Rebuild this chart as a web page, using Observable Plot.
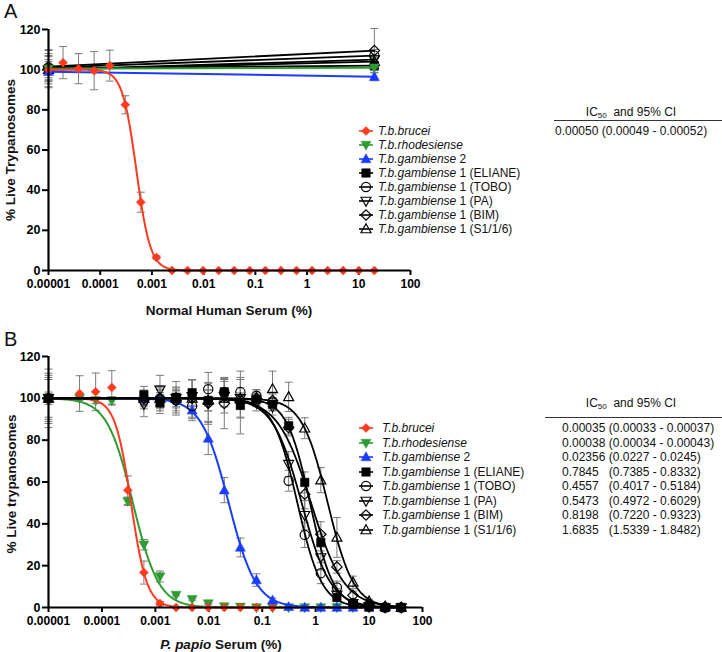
<!DOCTYPE html>
<html><head><meta charset="utf-8">
<script src="https://cdn.jsdelivr.net/npm/d3@7"></script>
<script src="https://cdn.jsdelivr.net/npm/@observablehq/plot@0.6"></script>
<style>
body{margin:0;background:#fff;font-family:"Liberation Sans",Arial,sans-serif;color:#111;}
#root{position:relative;width:722px;height:652px;overflow:hidden;background:#fff;}
.abs{position:absolute;white-space:pre;line-height:14px;font-size:12px;}
.ttl{position:absolute;white-space:pre;font-weight:bold;font-size:13.5px;line-height:1;transform:translate(-50%,-50%);}
.rot{transform:translate(-50%,-50%) rotate(-90deg);}
.letter{position:absolute;font-size:20px;line-height:1;}
svg.plot{position:absolute;left:0;}
</style></head><body><div id="root"></div>
<script>
// ---------------- tick labels ----------------
const xTicks = [0.00001, 0.0001, 0.001, 0.01, 0.1, 1, 10, 100];
const xTickLabels = ["0.00001", "0.0001", "0.001", "0.01", "0.1", "1", "10", "100"];
const yTicks = [0, 20, 40, 60, 80, 100, 120];

// ---------------- series names ----------------
const speciesNames = ["T.b.brucei", "T.b.rhodesiense", "T.b.gambiense", "T.b.gambiense", "T.b.gambiense", "T.b.gambiense", "T.b.gambiense", "T.b.gambiense"];
const speciesSuffix = ["", "", " 2", " 1 (ELIANE)", " 1 (TOBO)", " 1 (PA)", " 1 (BIM)", " 1 (S1/1/6)"];

// ---------------- Panel A: Normal Human Serum ----------------
const concA = [0.00001, 0.0000191, 0.0000381, 0.0000763, 0.000153, 0.000305, 0.00061, 0.00122, 0.00244, 0.00488, 0.00977, 0.0195, 0.039, 0.078, 0.156, 0.3125, 0.625, 1.25, 2.5, 5, 10, 20];
const bruceiA    = [100, 103.5, 100.5, 99.5, 102, 82.5, 34, 6.5, 0, 0, 0, 0, 0, 0, 0, 0, 0, 0, 0, 0, 0, 0];
const bruceiA_sd = [1.5, 8, 7.5, 9.5, 7.7, 4.5, 5, 0.8, 0, 0, 0, 0, 0, 0, 0, 0, 0, 0, 0, 0, 0, 0];
const concEndsA = [0.00001, 20];
const rhodA   = [100.5, 101];   const rhodA_sd   = [6, 1.5];
const gamb2A  = [99, 96.5];     const gamb2A_sd  = [8, 2];
const elianeA = [100.5, 102];   const elianeA_sd = [9, 2];
const toboA   = [101, 107];     const toboA_sd   = [7, 3];
const paA     = [100, 105];     const paA_sd     = [5, 2];
const bimA    = [101.5, 109.5]; const bimA_sd    = [8.5, 11];
const s116A   = [100, 104];     const s116A_sd   = [4, 2];
const ic50A = [0.00050];
const hillA = [3.2];
const ic50TextA = ["0.00050 (0.00049 - 0.00052)"];

// ---------------- Panel B: P. papio Serum ----------------
const concB = [0.00001, 0.0000381, 0.0000763, 0.000153, 0.000305, 0.00061, 0.00122, 0.00244, 0.00488, 0.00977, 0.0195, 0.039, 0.078, 0.156, 0.3125, 0.625, 1.25, 2.5, 5, 10, 20, 40];
const bruceiB    = [100, 102.3, 103.1, 105.2, 56.1, 16.7, 1.9, 0, 0, 0, 0, 0, 0, 0, null, null, null, null, null, null, null, null];
const bruceiB_sd = [2, 8.5, 9, 8, 6.8, 5.5, 1, 0, 0, 0, 0, 0, 0, 0, 0, 0, 0, 0, 0, 0, 0, 0];
const rhodB      = [100, 100, 99, 98.8, 50.8, 30, 14.8, 6, 4, 1.9, 0.5, 0.3, 0, 0, 0, 0, 0, 0, 0, 0, 0, 0];
const rhodB_sd   = [3, 1, 1.5, 2, 2, 2.5, 2.6, 0.5, 0.5, 0.3, 0, 0, 0, 0, 0, 0, 0, 0, 0, 0, 0, 0];
const gamb2B     = [100, null, null, null, null, 99.9, 100.2, 100.4, 94.3, 80.8, 56.1, 28.7, 13.1, 3.5, 0.3, 0, 0, 0, 0, 0, 0, 0];
const gamb2B_sd  = [2, 0, 0, 0, 0, 3, 4, 5, 5, 7.7, 6, 4.5, 3, 1, 0, 0, 0, 0, 0, 0, 0, 0];
const elianeB    = [100, null, null, null, null, 101.7, 97.7, 100.5, 102.7, 99, 103.1, 96.6, 99.5, 97.2, 86.9, 59.8, 31.1, 4.8, 1.5, 0.3, 0, 0];
const elianeB_sd = [12, 0, 0, 0, 0, 4, 5, 3, 6, 5, 5, 6, 3, 3, 4, 5, 4, 3, 1, 0.5, 0, 0];
const toboB      = [100, null, null, null, null, 99, 100, 99, 96.3, 104.4, 103, 103, 101.2, 98, 60.6, 34.7, 16.4, 9.6, 2.2, 0.5, 0, 0];
const toboB_sd   = [14, 0, 0, 0, 0, 4, 6, 5, 6, 8, 7, 7, 3, 4, 5, 6, 5, 3, 1, 0.5, 0, 0];
const paB        = [100, null, null, null, null, 97.2, 104, 100, 101, 98, 101, 100, 98, 96, 68.5, 44.1, 23.9, 6, 2, 0.5, 0, 0];
const paB_sd     = [10, 0, 0, 0, 0, 6, 7, 8, 8, 9, 8, 9, 4, 4, 6, 7, 6, 3, 1, 0.5, 0, 0];
const bimB       = [100, null, null, null, null, 100, 100, 99, 100, 97.6, 97.5, 98, 100, 99, 86, 54.2, 35, 19.4, 5.8, 1.5, 0.3, 0];
const bimB_sd    = [9, 0, 0, 0, 0, 4, 5, 6, 9, 10, 12, 15, 3, 4, 4, 7, 6, 3, 2, 1, 0.5, 0];
const s116B      = [100, null, null, null, null, 100, 100, 100, 100, 99, 100, 100, 100, 104.5, 100.7, 85.7, 60.9, 33.5, 12, 3, 0.5, 0];
const s116B_sd   = [11, 0, 0, 0, 0, 3, 4, 4, 4, 5, 4, 5, 4, 8.5, 7, 5, 6, 9.5, 3, 1, 0.5, 0];
const ic50B = [0.00035, 0.00038, 0.02356, 0.7845, 0.4557, 0.5473, 0.8198, 1.6835];
const hillB = [2.9, 1.8, 1.7, 2.0, 1.9, 1.6, 1.4, 1.8];
const ic50TextB = [
  "0.00035 (0.00033 - 0.00037)",
  "0.00038 (0.00034 - 0.00043)",
  "0.02356 (0.0227 - 0.0245)",
  "0.7845   (0.7385 - 0.8332)",
  "0.4557   (0.4017 - 0.5184)",
  "0.5473   (0.4972 - 0.6029)",
  "0.8198   (0.7220 - 0.9323)",
  "1.6835   (1.5339 - 1.8482)"
];

// ---------------- styles ----------------
const seriesColor = ["#ff3b1f", "#2e9b33", "#1a3cff", "#000", "#000", "#000", "#000", "#000"];
const errColor = "#7b7b7b";
const rad = s => Math.sqrt(s / Math.PI);
const symDiamond = {draw(c, s){const r = rad(s); c.moveTo(0, -r); c.lineTo(r, 0); c.lineTo(0, r); c.lineTo(-r, 0); c.closePath();}};
const symSquare = {draw(c, s){const r = rad(s) * 0.85; c.rect(-r, -r, 2 * r, 2 * r);}};
const symCircle = {draw(c, s){const r = rad(s); c.moveTo(r, 0); c.arc(0, 0, r, 0, 2 * Math.PI);}};
const symUp = {draw(c, s){const r = rad(s); c.moveTo(0, -r * 1.05); c.lineTo(r, r * 0.75); c.lineTo(-r, r * 0.75); c.closePath();}};
const symDown = {draw(c, s){const r = rad(s); c.moveTo(0, r * 1.05); c.lineTo(r, -r * 0.75); c.lineTo(-r, -r * 0.75); c.closePath();}};
const symCap = {draw(c, s){const r = rad(s); c.moveTo(-r, 0); c.lineTo(r, 0);}};
const seriesSym = [symDiamond, symDown, symUp, symSquare, symCircle, symDown, symDiamond, symUp];
const seriesFill = ["#ff3b1f", "#2e9b33", "#1a3cff", "#000", "none", "none", "none", "none"];
const seriesR = [4.5, 5, 5, 5, 4.6, 5, 5.2, 5];

function rowsOf(conc, vals, sds){
  const out = [];
  conc.forEach((x, i) => { if (vals[i] != null) out.push({x, y: vals[i], sd: sds[i] || 0}); });
  return out;
}
function fitCurve(ic50, hill, xmin, xmax){
  const n = 300, out = [];
  const a = Math.log10(xmin), b = Math.log10(xmax);
  for (let i = 0; i <= n; i++){ const x = 10 ** (a + (b - a) * i / n); out.push({x, y: 100 / (1 + Math.pow(x / ic50, hill))}); }
  return out;
}

function buildPlot({series, order, height, marginRight, marginTop, marginBottom}){
  const marks = [];
  const all = series.flatMap(s => s.rows.filter(d => d.sd > 0));
  marks.push(Plot.ruleX(all, {x: "x", y1: d => Math.max(0, d.y - d.sd), y2: d => d.y + d.sd, stroke: errColor, strokeWidth: 1}));
  const caps = all.flatMap(d => [{x: d.x, y: d.y + d.sd}, ...(d.y - d.sd > 0 ? [{x: d.x, y: d.y - d.sd}] : [])]);
  marks.push(Plot.dot(caps, {x: "x", y: "y", symbol: symCap, r: 4, stroke: errColor, strokeWidth: 1, fill: "none"}));
  marks.push(Plot.axisX({ticks: xTicks, tickFormat: d => xTickLabels[xTicks.indexOf(d)], tickSize: 5, tickPadding: 4, strokeWidth: 2, fontSize: 12, fontWeight: "bold", label: null}));
  marks.push(Plot.axisY({ticks: yTicks, tickSize: 6, tickPadding: 2, strokeWidth: 2, fontSize: 12.5, fontWeight: "bold", label: null}));
  for (const i of order){
    const s = series[i];
    marks.push(Plot.line(s.curve, {x: "x", y: "y", stroke: seriesColor[i], strokeWidth: i < 3 ? 2 : 1.8}));
    marks.push(Plot.dot(s.rows, {x: "x", y: "y", symbol: seriesSym[i], r: seriesR[i], fill: seriesFill[i], stroke: seriesColor[i], strokeWidth: seriesFill[i] === "none" ? 1.2 : 0.5}));
  }
  marks.push(Plot.ruleY([0], {x1: 0.00001, x2: 100, strokeWidth: 2.2}));
  marks.push(Plot.ruleX([0.00001], {y1: 0, y2: 120, strokeWidth: 2.2}));
  return Plot.plot({
    width: 722, height, marginLeft: 48, marginRight, marginTop, marginBottom,
    x: {type: "log", domain: [0.00001, 100]},
    y: {domain: [0, 120]},
    style: {fontFamily: "'Liberation Sans', Arial, sans-serif", fontWeight: "bold", color: "#000", background: "transparent"},
    marks
  });
}

const root = document.getElementById("root");

// ---- Panel A ----
const valsA = [bruceiA, rhodA, gamb2A, elianeA, toboA, paA, bimA, s116A];
const sdsA = [bruceiA_sd, rhodA_sd, gamb2A_sd, elianeA_sd, toboA_sd, paA_sd, bimA_sd, s116A_sd];
const seriesA = valsA.map((v, i) => {
  const conc = i === 0 ? concA : concEndsA;
  const rows = rowsOf(conc, v, sdsA[i]);
  return {rows, curve: i === 0 ? fitCurve(ic50A[0], hillA[0], 0.00001, 20) : rows};
});
const svgA = buildPlot({series: seriesA, order: [3, 4, 5, 6, 7, 2, 1, 0], height: 326, marginRight: 312, marginTop: 29, marginBottom: 56});
svgA.classList.add("plot"); svgA.style.top = "0px";
root.appendChild(svgA);

// ---- Panel B ----
const valsB = [bruceiB, rhodB, gamb2B, elianeB, toboB, paB, bimB, s116B];
const sdsB = [bruceiB_sd, rhodB_sd, gamb2B_sd, elianeB_sd, toboB_sd, paB_sd, bimB_sd, s116B_sd];
const seriesB = valsB.map((v, i) => ({rows: rowsOf(concB, v, sdsB[i]), curve: fitCurve(ic50B[i], hillB[i], 0.00001, 40)}));
const svgB = buildPlot({series: seriesB, order: [1, 0, 2, 3, 4, 5, 6, 7], height: 326, marginRight: 300, marginTop: 30, marginBottom: 45});
svgB.classList.add("plot"); svgB.style.top = "326px";
root.appendChild(svgB);

// ---- text: letters and axis titles ----
function addDiv(cls, html, css){ const d = document.createElement("div"); d.className = cls; d.innerHTML = html; Object.assign(d.style, css); root.appendChild(d); return d; }
addDiv("letter", "A", {left: "4px", top: "1px"});
addDiv("letter", "B", {left: "4px", top: "329px"});
addDiv("ttl rot", "% Live Trypanosomes", {left: "11px", top: "150px"});
addDiv("ttl", "Normal Human Serum (%)", {left: "229px", top: "311px"});
addDiv("ttl rot", "% Live trypanosomes", {left: "12px", top: "484px"});
addDiv("ttl", "<i>P. papio</i> Serum (%)", {left: "221px", top: "645px"});

// ---- legends ----
function swatch(i){
  const p = d3.symbol(seriesSym[i], seriesR[i] * seriesR[i] * Math.PI)();
  return `<svg width="16" height="14" style="position:absolute;left:0;top:0"><line x1="1" x2="15" y1="7" y2="7" stroke="${seriesColor[i]}" stroke-width="1.6"/><path d="${p}" transform="translate(8,7)" fill="${seriesFill[i]}" stroke="${seriesColor[i]}" stroke-width="${seriesFill[i] === "none" ? 1.2 : 0.5}"/></svg>`;
}
function legend(top, step, textLeft){
  speciesNames.forEach((nm, i) => {
    const y = top + i * step - 7;
    addDiv("abs", swatch(i), {left: "358px", top: y + "px", width: "16px", height: "14px"});
    addDiv("abs", `<i>${nm}</i>${speciesSuffix[i]}`, {left: textLeft + "px", top: y + "px"});
  });
}
legend(131, 14, 378);
legend(428, 14.5, 382);

// ---- IC50 tables ----
function table(headerCenter, headerY, lineY, lineLeft, valLeft, rowTop, step, texts){
  addDiv("abs", "IC<sub style='font-size:8px;vertical-align:-2px;line-height:0'>50</sub>  and 95% CI", {left: headerCenter + "px", top: (headerY - 7) + "px", transform: "translateX(-50%)"});
  addDiv("abs", "", {left: lineLeft + "px", top: lineY + "px", width: (722 - lineLeft) + "px", height: "0px", borderTop: "1.3px solid #333"});
  texts.forEach((t, i) => addDiv("abs", t, {left: valLeft + "px", top: (rowTop + i * step - 7) + "px"}));
}
table(631, 112, 120, 554, 555, 131, 14, ic50TextA);
table(631, 403, 417, 545, 562, 428, 14.5, ic50TextB);
</script></body></html>
